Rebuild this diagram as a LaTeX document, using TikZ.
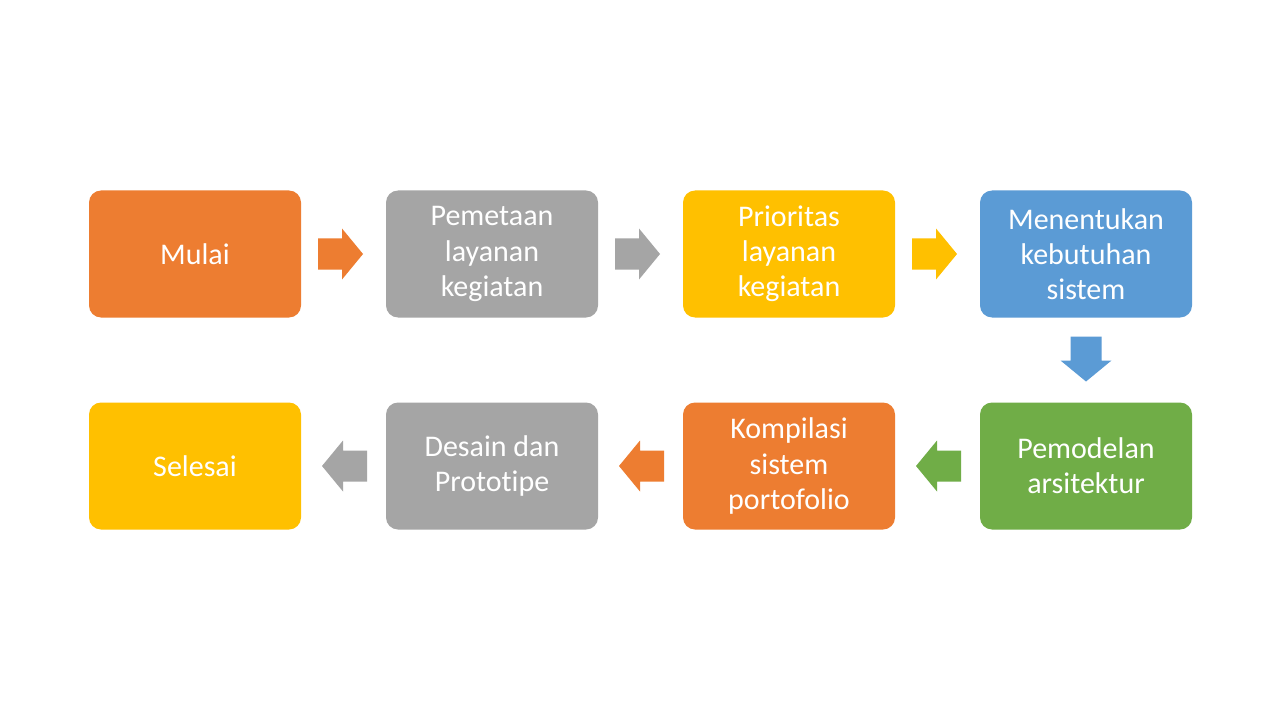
\documentclass[tikz,border=0pt]{standalone}
\usepackage{fontspec}
\setmainfont[Ligatures=NoCommon]{Carlito}
\usetikzlibrary{calc}
\definecolor{cOrange}{HTML}{ED7D31}
\definecolor{cGray}{HTML}{A5A5A5}
\definecolor{cGold}{HTML}{FFC000}
\definecolor{cBlue}{HTML}{5B9BD5}
\definecolor{cGreen}{HTML}{70AD47}
\tikzset{
  stepbox/.style={rectangle, rounded corners=9pt, minimum width=159pt, minimum height=95.25pt,
    inner sep=0pt, text=white, align=center, font=\fontsize{22.5}{26.3}\selectfont},
  blockarrow/.pic={\fill (-22.5,-15.5) -- (1.5,-15.5) -- (1.5,-25.5) -- (22.5,0) -- (1.5,25.5) -- (1.5,15.5) -- (-22.5,15.5) -- cycle;}
}
\begin{document}
\begin{tikzpicture}[x=0.75pt,y=-0.75pt]
\useasboundingbox[fill=white] (0,0) rectangle (1280,720);
% row 1
\node[stepbox, fill=cOrange] (b1) at (195,254) {Mulai};
\node[stepbox, fill=cGray]   (b2) at (492,254) {Pemetaan\\layanan\\kegiatan};
\node[stepbox, fill=cGold]   (b3) at (789,254) {Prioritas\\layanan\\kegiatan};
\node[stepbox, fill=cBlue]   (b4) at (1086,254) {Menentukan\\kebutuhan\\sistem};
% row 2
\node[stepbox, fill=cGreen]  (b5) at (1086,466) {Pemodelan\\arsitektur};
\node[stepbox, fill=cOrange] (b6) at (789,466) {Kompilasi\\sistem\\portofolio};
\node[stepbox, fill=cGray]   (b7) at (492,466) {Desain dan\\Prototipe};
\node[stepbox, fill=cGold]   (b8) at (195,466) {Selesai};
% arrows
\pic[fill=cOrange] at ($(b1.east)!0.5!(b2.west)+(-3,0)$) {blockarrow};
\pic[fill=cGray]   at ($(b2.east)!0.5!(b3.west)+(-3,0)$) {blockarrow};
\pic[fill=cGold]   at ($(b3.east)!0.5!(b4.west)+(-3,0)$) {blockarrow};
\pic[fill=cBlue, rotate=-90] at ($(b4.south)!0.5!(b5.north)+(0,-1)$) {blockarrow};
\pic[fill=cGreen, rotate=180]  at ($(b5.west)!0.5!(b6.east)+(1,0)$) {blockarrow};
\pic[fill=cOrange, rotate=180] at ($(b6.west)!0.5!(b7.east)+(1,0)$) {blockarrow};
\pic[fill=cGray, rotate=180]   at ($(b7.west)!0.5!(b8.east)+(1,0)$) {blockarrow};
\end{tikzpicture}
\end{document}
